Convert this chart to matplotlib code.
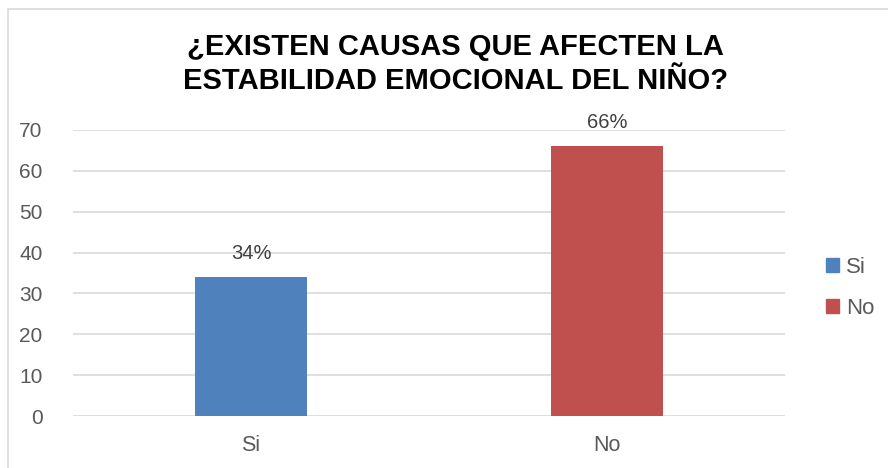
import matplotlib.pyplot as plt
from matplotlib.patches import Rectangle

categories = ['Si', 'No']
values = [34, 66]
labels = ['34%', '66%']
colors = ['#4F81BD', '#C0504D']
yticks = [0, 10, 20, 30, 40, 50, 60, 70]

plt.rcParams['font.family'] = ['Liberation Sans', 'DejaVu Sans']

W, H = 888, 468
fig = plt.figure(figsize=(W / 100, H / 100), dpi=100)

# chart border (cropped on right/bottom)
fig.patches.append(Rectangle((8 / W, -0.1), 1.1, (H - 9) / H + 0.1, transform=fig.transFigure,
                             fill=False, edgecolor='#D9D9D9', linewidth=1.2))

ax = fig.add_axes([73 / W, (H - 416) / H, (785 - 73) / W, (416 - 130) / H])
bars = ax.bar(range(len(categories)), values, width=0.315, color=colors, zorder=3)
ax.set_xlim(-0.5, 1.5)
ax.set_ylim(0, 70)
ax.set_yticks(yticks)
ax.yaxis.grid(True, color='#D9D9D9', linewidth=1.2, zorder=0)
for s in ax.spines.values():
    s.set_visible(False)
ax.tick_params(length=0, colors='#595959', labelsize=15)
ax.tick_params(axis='y', pad=22)
ax.tick_params(axis='x', pad=14, labelsize=15.5)
ax.set_xticks(range(len(categories)))
ax.set_xticklabels(categories)
for b, lab in zip(bars, labels):
    ax.annotate(lab, (b.get_x() + b.get_width() / 2, b.get_height()), xytext=(0, 10),
                textcoords='offset points', ha='center', va='bottom', color='#404040', fontsize=14.5)

fig.text(455 / W, 1 - 64 / H, '¿EXISTEN CAUSAS QUE AFECTEN LA\nESTABILIDAD EMOCIONAL DEL NIÑO?',
         ha='center', va='center', fontsize=21, fontweight='bold', linespacing=1.25)

handles = [Rectangle((0, 0), 1, 1, color=c) for c in colors]
leg = fig.legend(handles, categories, loc='center left', bbox_to_anchor=(806 / W, 1 - 288 / H),
                 frameon=False, fontsize=16, handlelength=0.6, handleheight=0.6,
                 handletextpad=0.3, labelspacing=0.9, labelcolor='#595959')

fig.savefig('out.png', dpi=100)
